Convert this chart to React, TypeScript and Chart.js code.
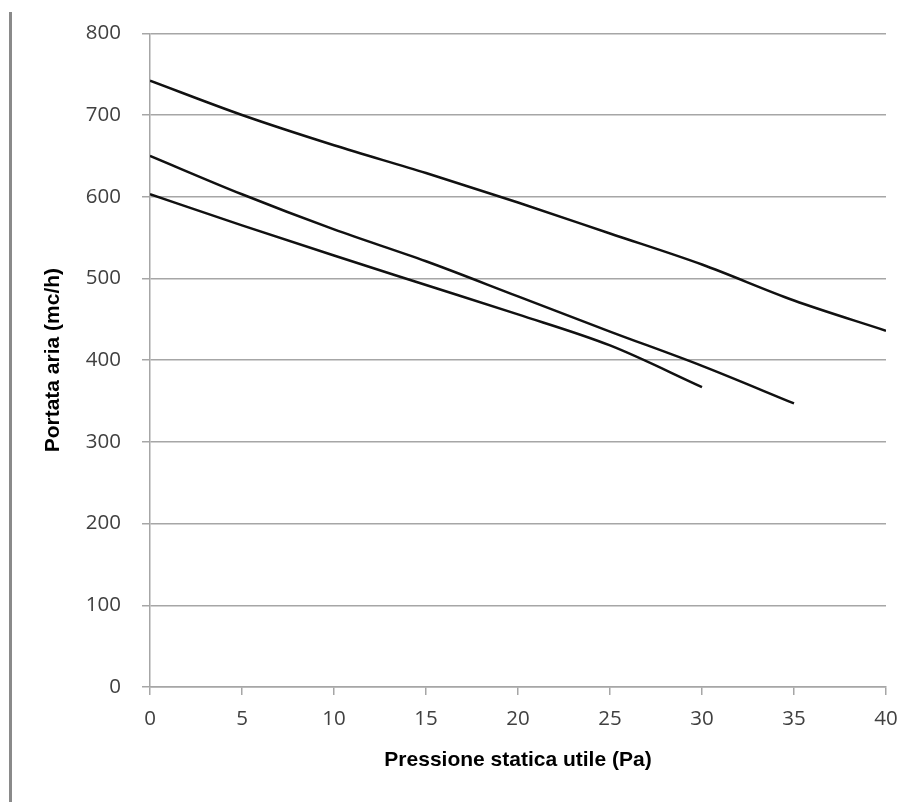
import React, { useEffect, useRef } from "react";
import { Chart, registerables } from "chart.js";

Chart.register(...registerables);

const pressure = [0, 5, 10, 15, 20, 25, 30, 35, 40];
const curveHigh = [742, 700, 663, 629, 593, 555, 517, 473, 436];
const curveMid = [650, 603, 560, 521, 478, 435, 393, 347];
const curveLow = [603, 565, 528, 492, 456, 418, 367];

const yTitle = "Portata aria (mc/h)";
const xTitle = "Pressione statica utile (Pa)";

function toPoints(values: number[]) {
  return values.map((v, i) => ({ x: pressure[i], y: v }));
}

export default function App() {
  const ref = useRef<HTMLCanvasElement | null>(null);

  useEffect(() => {
    document.body.style.margin = "0";
    const canvas = ref.current;
    if (!canvas) return;
    const tickFont = { family: "'Open Sans', sans-serif", size: 20.5 };
    const titleFont = { family: "'Liberation Sans', Arial, sans-serif", size: 21, weight: "bold" as const };
    const lineStyle = {
      borderColor: "#111111",
      borderWidth: 2.5,
      pointRadius: 0,
      fill: false,
      cubicInterpolationMode: "monotone" as const,
    };
    const chart = new Chart(canvas, {
      type: "line",
      data: {
        datasets: [
          { label: "A", data: toPoints(curveHigh), ...lineStyle },
          { label: "B", data: toPoints(curveMid), ...lineStyle },
          { label: "C", data: toPoints(curveLow), ...lineStyle },
        ],
      },
      options: {
        animation: false,
        responsive: false,
        maintainAspectRatio: false,
        layout: { padding: { left: 0, top: 29, right: 29, bottom: 0 } },
        plugins: { legend: { display: false }, tooltip: { enabled: false } },
        scales: {
          x: {
            type: "linear",
            min: 0,
            max: 40,
            ticks: { stepSize: 5, color: "#404040", font: tickFont, padding: 12, maxRotation: 0 },
            grid: { drawOnChartArea: false, drawTicks: true, tickLength: 8, color: "#a6a6a6", lineWidth: 1.5 },
            border: { color: "#a6a6a6", width: 1.5 },
            title: { display: true, text: xTitle, color: "#000", font: titleFont, padding: { top: 0, bottom: 29 } },
            afterFit: (s: any) => { s.height = 115; },
          },
          y: {
            min: 0,
            max: 800,
            ticks: { stepSize: 100, color: "#404040", font: tickFont, padding: 21 },
            grid: { drawTicks: true, tickLength: 8, color: "#a6a6a6", lineWidth: 1.5 },
            border: { color: "#a6a6a6", width: 1.5 },
            title: { display: true, text: yTitle, color: "#000", font: titleFont, padding: { top: 41, bottom: 0 } },
            afterFit: (s: any) => { s.width = 150; },
          },
        },
      },
    });
    return () => chart.destroy();
  }, []);

  return (
    <div style={{ position: "relative", width: 915, height: 802, background: "#fff" }}>
      <div style={{ position: "absolute", left: 9, top: 12, width: 3, height: 790, background: "#8a8a8a" }} />
      <canvas ref={ref} width={915} height={802} style={{ position: "absolute", left: 0, top: 0 }} />
    </div>
  );
}
